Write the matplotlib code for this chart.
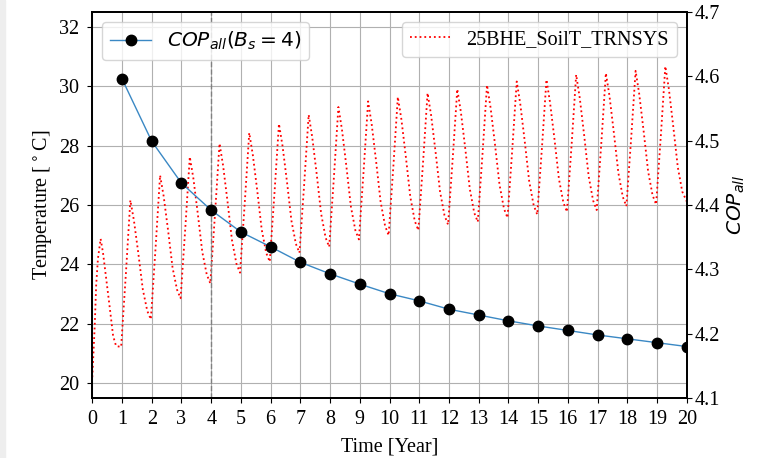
import matplotlib
matplotlib.use("Agg")
import matplotlib.pyplot as plt
from matplotlib.patches import Rectangle

plt.rcParams['font.family'] = 'serif'
plt.rcParams['font.serif'] = ['Liberation Serif', 'DejaVu Serif']
plt.rcParams['mathtext.fontset'] = 'dejavusans'
FS = 14.5

# COP of the whole system at the end of each year
years = list(range(1, 21))
cop_all = [4.596, 4.499, 4.434, 4.392, 4.358, 4.335, 4.311, 4.293, 4.277, 4.262,
           4.251, 4.238, 4.229, 4.220, 4.212, 4.205, 4.198, 4.192, 4.186, 4.180]

# soil temperature (year, deg C)
soil_t = [0.00, 0.08, 0.13, 0.19, 0.28, 0.36, 0.47, 0.58, 0.70, 0.80, 0.97,
          1.13, 1.28, 1.40, 1.55, 1.70, 1.85, 1.97,
          2.13, 2.28, 2.40, 2.55, 2.70, 2.85, 2.97,
          3.13, 3.28, 3.40, 3.55, 3.70, 3.85, 3.97,
          4.13, 4.28, 4.40, 4.55, 4.70, 4.85, 4.97,
          5.13, 5.28, 5.40, 5.55, 5.70, 5.85, 5.97,
          6.13, 6.28, 6.40, 6.55, 6.70, 6.85, 6.97,
          7.13, 7.28, 7.40, 7.55, 7.70, 7.85, 7.97,
          8.13, 8.28, 8.40, 8.55, 8.70, 8.85, 8.97,
          9.13, 9.28, 9.40, 9.55, 9.70, 9.85, 9.97,
          10.13, 10.28, 10.40, 10.55, 10.70, 10.85, 10.97,
          11.13, 11.28, 11.40, 11.55, 11.70, 11.85, 11.97,
          12.13, 12.28, 12.40, 12.55, 12.70, 12.85, 12.97,
          13.13, 13.28, 13.40, 13.55, 13.70, 13.85, 13.97,
          14.13, 14.28, 14.40, 14.55, 14.70, 14.85, 14.97,
          15.13, 15.28, 15.40, 15.55, 15.70, 15.85, 15.97,
          16.13, 16.28, 16.40, 16.55, 16.70, 16.85, 16.97,
          17.13, 17.28, 17.40, 17.55, 17.70, 17.85, 17.97,
          18.13, 18.28, 18.40, 18.55, 18.70, 18.85, 18.97,
          19.13, 19.28, 19.40, 19.55, 19.70, 19.85, 20.00]
soil_temp = [20.20, 21.90, 23.30, 24.20, 24.86, 24.39, 23.50, 22.60, 21.59, 21.25, 21.22,
             23.69, 26.16, 25.48, 24.36, 23.15, 22.43, 22.15,
             24.58, 27.00, 26.30, 25.14, 23.89, 23.15, 22.86,
             25.24, 27.62, 26.90, 25.70, 24.42, 23.66, 23.36,
             25.72, 28.07, 27.33, 26.11, 24.81, 24.02, 23.72,
             26.08, 28.43, 27.69, 26.48, 25.17, 24.39, 24.09,
             26.41, 28.73, 27.99, 26.78, 25.47, 24.69, 24.39,
             26.72, 29.04, 28.28, 27.04, 25.70, 24.90, 24.59,
             26.95, 29.30, 28.54, 27.29, 25.95, 25.15, 24.84,
             27.17, 29.49, 28.72, 27.46, 26.11, 25.30, 24.98,
             27.31, 29.64, 28.88, 27.62, 26.27, 25.46, 25.15,
             27.46, 29.77, 29.02, 27.78, 26.45, 25.65, 25.34,
             27.62, 29.90, 29.14, 27.89, 26.55, 25.74, 25.43,
             27.74, 30.04, 29.28, 28.03, 26.69, 25.88, 25.57,
             27.87, 30.16, 29.40, 28.14, 26.80, 25.99, 25.68,
             27.95, 30.22, 29.46, 28.22, 26.88, 26.08, 25.77,
             28.08, 30.39, 29.61, 28.34, 26.97, 26.15, 25.83,
             28.14, 30.44, 29.68, 28.42, 27.08, 26.27, 25.96,
             28.24, 30.52, 29.75, 28.49, 27.14, 26.33, 26.02,
             28.35, 30.67, 29.90, 28.62, 27.27, 26.45, 26.12]

fig = plt.figure(figsize=(7.61, 4.58), dpi=100)
fig.patches.append(Rectangle((0, 0), 5 / 761, 1, transform=fig.transFigure,
                             color='#eeeeee', zorder=-1))
ax1 = fig.add_axes([0.1213, 0.131, 0.7811, 0.8428])

ax1.plot(soil_t, soil_temp, color='red', linestyle=':', linewidth=1.3,
         label='25BHE_SoilT_TRNSYS')
ax1.axvline(4, color='gray', linestyle='--', linewidth=1.0)
ax1.set_xlim(0, 20)
ax1.set_ylim(19.5, 32.5)
ax1.set_xticks(range(0, 21))
ax1.set_yticks(range(20, 33, 2))
ax1.grid(True, color='#b0b0b0', linewidth=0.8)
ax1.set_xlabel('Time [Year]', fontsize=FS, labelpad=6)
ax1.set_ylabel(r'Temperature [$^\circ$C]', fontsize=FS, labelpad=3)
ax1.tick_params(axis='x', labelsize=FS, pad=5)
ax1.tick_params(axis='y', labelsize=FS, pad=6)
ax1.legend(loc='upper right', fontsize=FS, borderaxespad=0.5)

ax2 = ax1.twinx()
ax2.plot(years, cop_all, color='#3a88c4', linewidth=1.0, marker='o',
         markersize=7.5, markerfacecolor='black', markeredgecolor='black',
         label=r'$COP_{all}(B_s=4)$')
ax2.set_ylim(4.1, 4.7)
ax2.set_yticks([4.1, 4.2, 4.3, 4.4, 4.5, 4.6, 4.7])
ax2.set_ylabel(r'$COP_{all}$', fontsize=FS)
ax2.tick_params(labelsize=FS, pad=2.5)
ax2.legend(loc='upper left', fontsize=FS, borderaxespad=0.5)

for ax in (ax1, ax2):
    for sp in ax.spines.values():
        sp.set_linewidth(1.3)

fig.savefig('out.png', dpi=100)
